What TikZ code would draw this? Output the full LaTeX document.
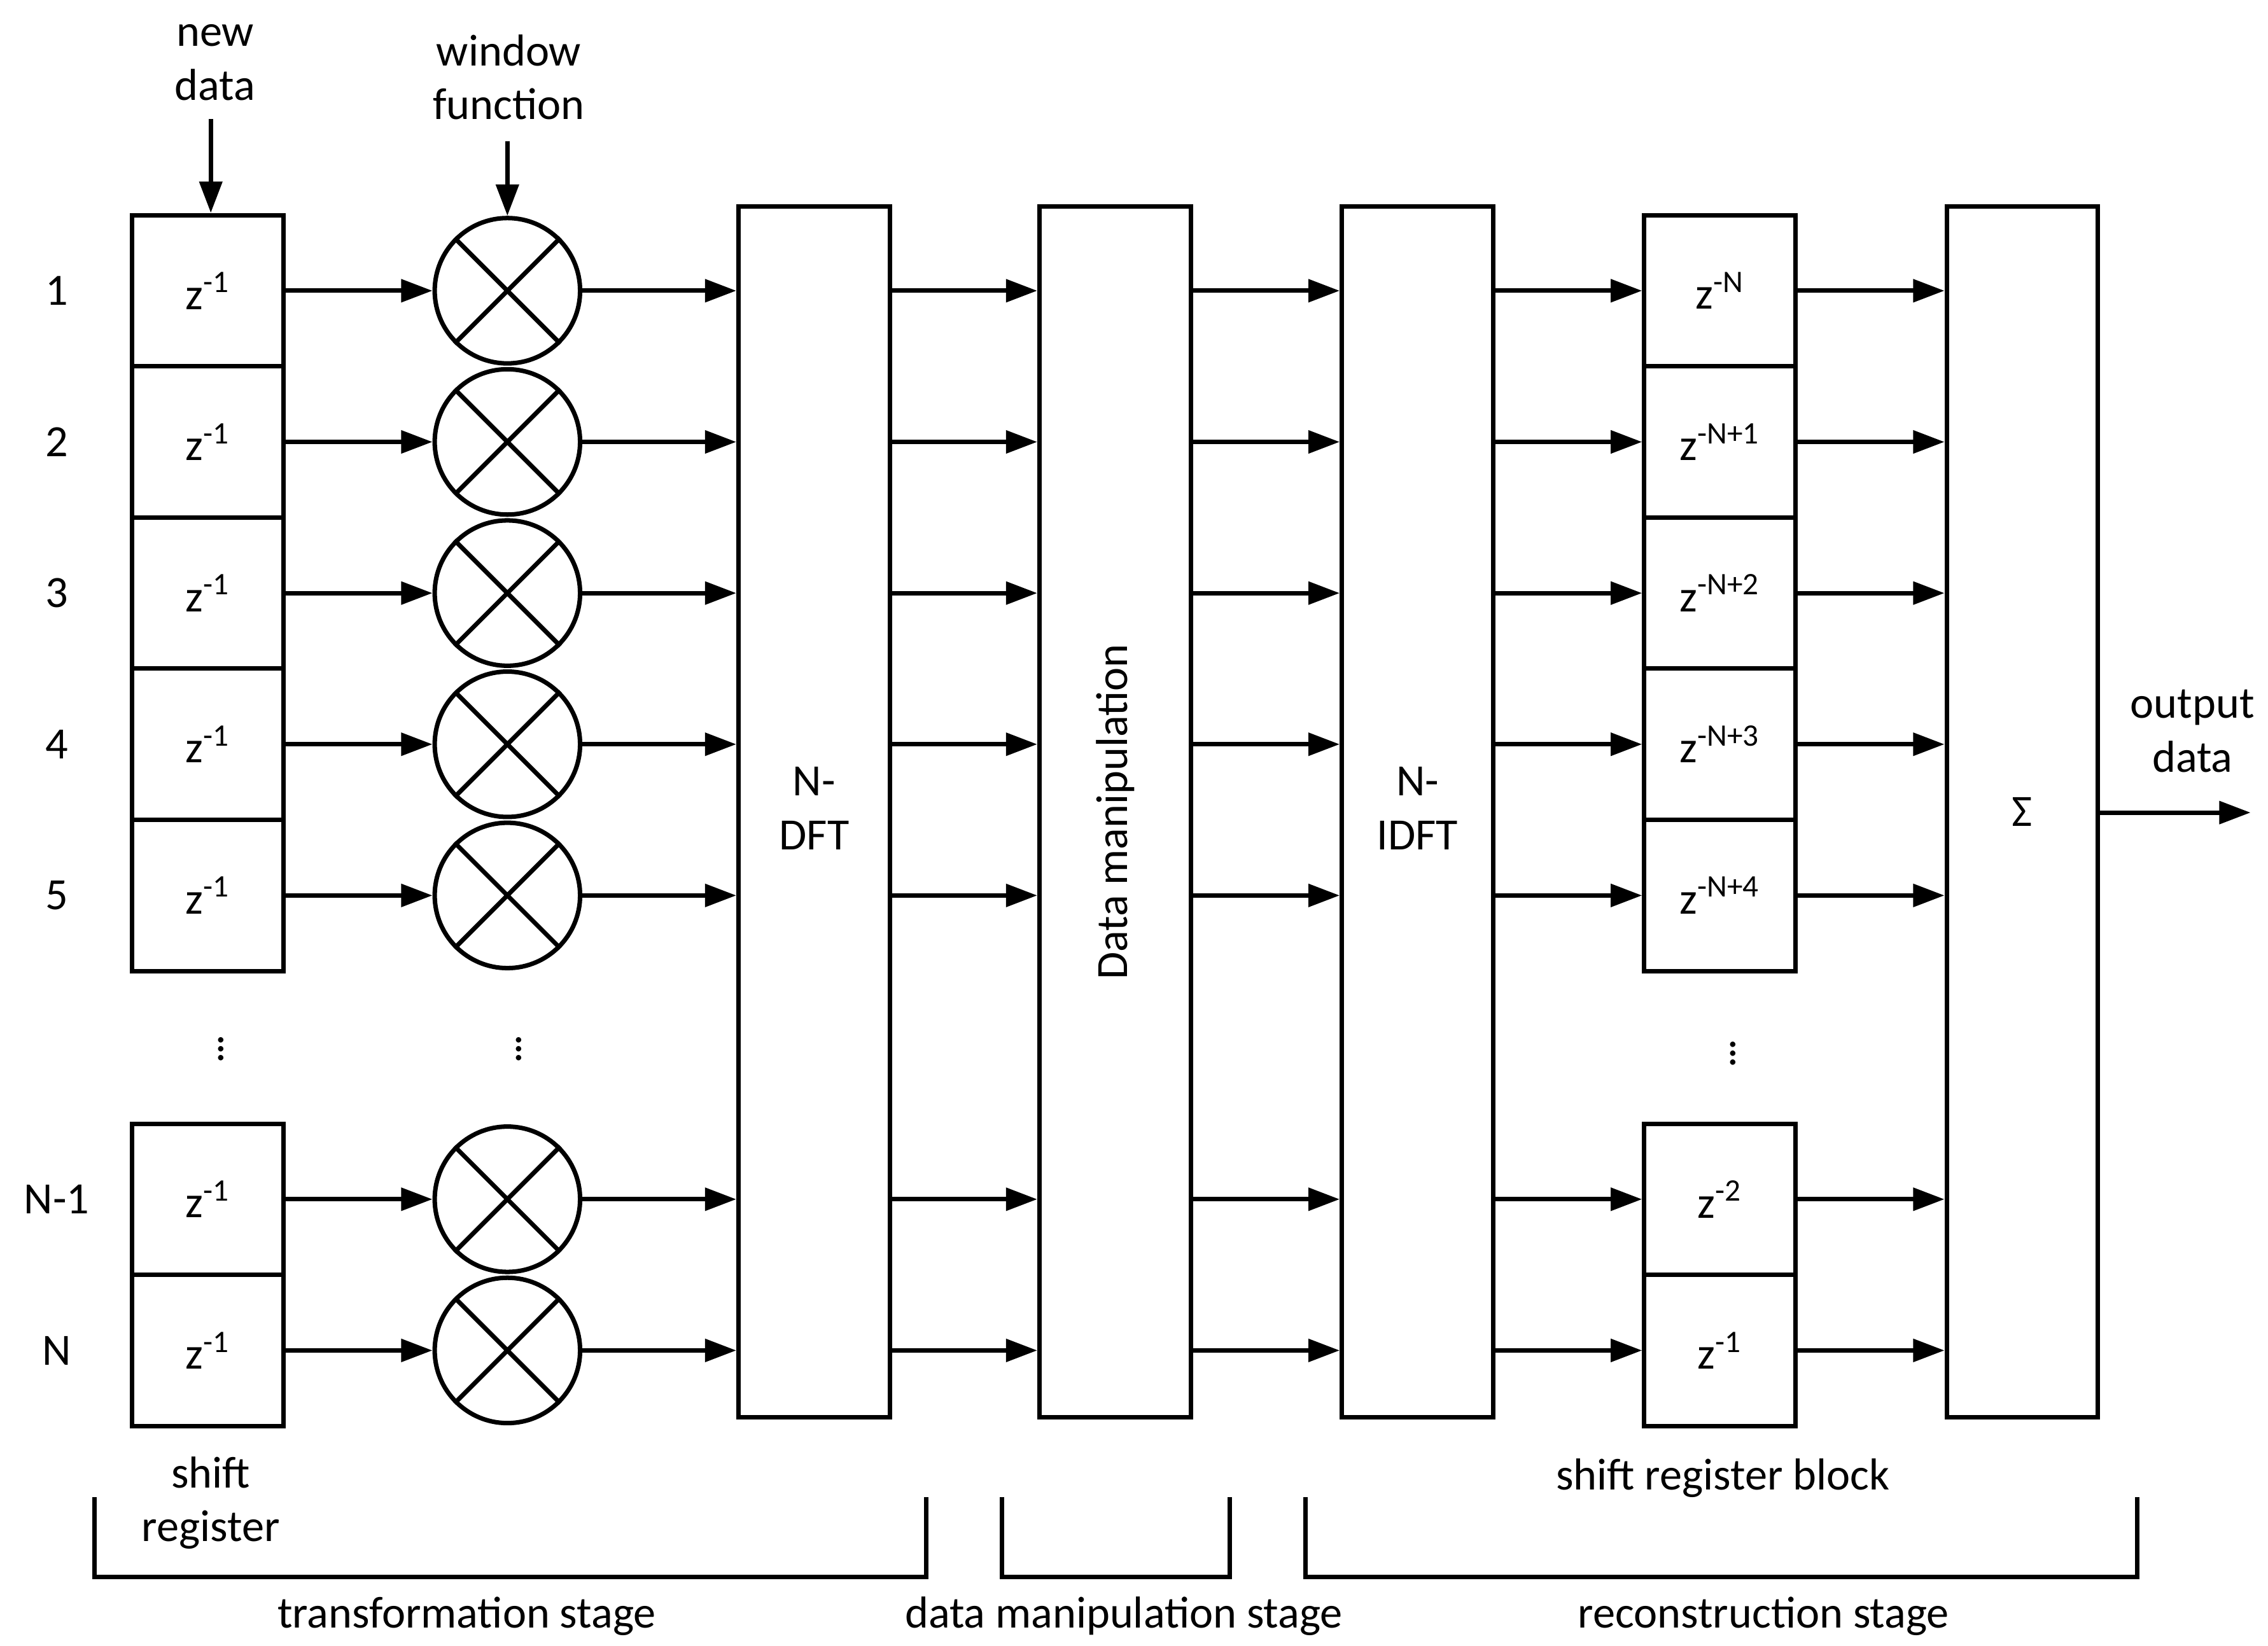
\documentclass[tikz,border=0pt]{standalone}
\usepackage{fontspec}
\setmainfont{Carlito}
\usetikzlibrary{arrows.meta}
\begin{document}
\begin{tikzpicture}[x=0.022846cm,y=-0.022846cm,
  every node/.style={font=\fontsize{20}{24}\selectfont},
  box/.style={draw,line width=2pt,minimum width=104*0.022846cm,minimum height=104*0.022846cm,inner sep=0pt},
  big/.style={draw,line width=2pt,minimum width=104*0.022846cm,minimum height=833*0.022846cm,inner sep=0pt},
  mul/.style={draw,circle,line width=2pt,minimum size=100*0.022846cm,inner sep=0pt},
  arr/.style={line width=2pt,-{Triangle[length=14pt,width=10pt]}},
  br/.style={line width=2pt}]
\useasboundingbox (0,0) rectangle (1560,1132);
\foreach \n/\y/\lab/\sup in {1/200/1/-N,2/304/2/-N+1,3/408/3/-N+2,4/512/4/-N+3,5/616/5/-N+4,6/825/N-1/-2,7/929/N/-1}{
  \node (lab\n) at (39,\y) {\lab};
  \node[box] (sl\n) at (143,\y) {z\textsuperscript{-1}};
  \node[mul] (m\n) at (349,\y) {};
  \draw[line width=2pt] (m\n.north west) -- (m\n.south east) (m\n.north east) -- (m\n.south west);
  \node[box] (sr\n) at (1183,\y) {z\textsuperscript{\sup}};
}
\node[big] (dft) at (560,558.5) {\begin{tabular}{c}N-\\DFT\end{tabular}};
\node[big] (dm) at (767,558.5) {\rotatebox{90}{Data manipulation}};
\node[big] (idft) at (975,558.5) {\begin{tabular}{c}N-\\IDFT\end{tabular}};
\node[big] (sum) at (1391,558.5) {Σ};
\foreach \n in {1,...,7}{
  \draw[arr] (sl\n.east) -- (m\n.west);
  \draw[arr] (m\n.east) -- (dft.west |- m\n.east);
  \draw[arr] (dft.east |- m\n.east) -- (dm.west |- m\n.east);
  \draw[arr] (dm.east |- m\n.east) -- (idft.west |- m\n.east);
  \draw[arr] (idft.east |- m\n.east) -- (sr\n.west);
  \draw[arr] (sr\n.east) -- (sum.west |- sr\n.east);
}
\coordinate (out) at (1548,559);
\draw[arr] (sum.east |- out) -- (out);
\node[align=center] (od) at (1508,503) {output\\data};
\node[align=center] (nd) at (148,43) {new\\data};
\coordinate (ndt) at (145,82);
\draw[arr] (ndt) -- (sl1.north -| ndt);
\node[align=center] (wf) at (350,53) {window\\function};
\coordinate (wft) at (349,97);
\draw[arr] (wft) -- (m1.north);
\node[inner sep=0pt] (d1) at (152,717) {$\vdots$};
\node[inner sep=0pt] (d2) at (357,717) {$\vdots$};
\node[inner sep=0pt] (d3) at (1192,720) {$\vdots$};
\node[align=center] (srl) at (145,1034) {shift\\register};
\node (srb) at (1185,1017) {shift register block};
\draw[br] (65,1030) -- (65,1085) -- (637,1085) -- (637,1030);
\draw[br] (689,1030) -- (689,1085) -- (846,1085) -- (846,1030);
\draw[br] (898,1030) -- (898,1085) -- (1470,1085) -- (1470,1030);
\node (t1) at (321,1112) {transformation stage};
\node (t2) at (773,1112) {data manipulation stage};
\node (t3) at (1213,1112) {reconstruction stage};
\end{tikzpicture}
\end{document}
